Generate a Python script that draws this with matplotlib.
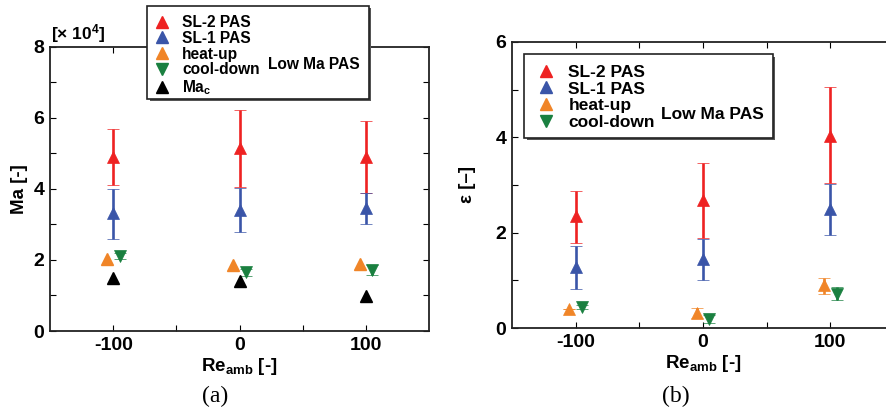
import matplotlib
matplotlib.use("Agg")
import matplotlib.pyplot as plt
from matplotlib.lines import Line2D
from matplotlib.patches import Rectangle
import numpy as np

plt.rcParams['font.family'] = ['Liberation Sans', 'DejaVu Sans']
plt.rcParams['font.weight'] = 'bold'
plt.rcParams['axes.unicode_minus'] = False
plt.rcParams['mathtext.fontset'] = 'custom'
plt.rcParams['mathtext.rm'] = 'Liberation Sans:bold'
plt.rcParams['mathtext.bf'] = 'Liberation Sans:bold'
plt.rcParams['mathtext.it'] = 'Liberation Sans:bold'

re_amb = np.array([-100, 0, 100])

# (a) Ma [x 1e4]
ma_sl2 = [4.9, 5.15, 4.9]
ma_sl2_lo = [4.1, 4.05, 3.88]
ma_sl2_hi = [5.7, 6.22, 5.9]
ma_sl1 = [3.32, 3.4, 3.46]
ma_sl1_lo = [2.6, 2.8, 3.0]
ma_sl1_hi = [4.0, 4.02, 3.9]
ma_heat = [2.03, 1.86, 1.88]
ma_cool = [2.12, 1.67, 1.72]
ma_cool_lo = [2.02, 1.55, 1.57]
ma_cool_hi = [2.2, 1.76, 1.85]
ma_crit = [1.49, 1.41, 0.99]

# (b) epsilon
ep_sl2 = [2.35, 2.68, 4.03]
ep_sl2_lo = [1.78, 1.89, 3.04]
ep_sl2_hi = [2.87, 3.46, 5.05]
ep_sl1 = [1.28, 1.45, 2.5]
ep_sl1_lo = [0.82, 1.0, 1.95]
ep_sl1_hi = [1.72, 1.87, 3.02]
ep_heat = [0.4, 0.31, 0.9]
ep_heat_lo = [0.4, 0.22, 0.72]
ep_heat_hi = [0.4, 0.42, 1.05]
ep_cool = [0.44, 0.2, 0.71]
ep_cool_lo = [0.4, 0.1, 0.59]
ep_cool_hi = [0.48, 0.28, 0.86]

c_red = '#ee2222'
c_blue = '#3a55a8'
c_orange = '#f08528'
c_green = '#1a8040'

fig = plt.figure(figsize=(8.87, 4.19), dpi=100)
ax1 = fig.add_axes([0.0564, 0.21, 0.4273, 0.678])
ax2 = fig.add_axes([0.577, 0.217, 0.431, 0.683])


def err(y, lo, hi):
    y = np.array(y)
    return [y - np.array(lo), np.array(hi) - y]


def eb(ax, x, y, lo, hi, color, marker):
    ax.errorbar(x, y, yerr=err(y, lo, hi), fmt=marker, color=color, ms=8.5,
                elinewidth=1.9, capsize=4, capthick=1.9, mec=color, mew=0.5)


eb(ax1, re_amb, ma_sl2, ma_sl2_lo, ma_sl2_hi, c_red, '^')
eb(ax1, re_amb, ma_sl1, ma_sl1_lo, ma_sl1_hi, c_blue, '^')
ax1.plot(re_amb - 5, ma_heat, '^', color=c_orange, ms=8.5, ls='none')
eb(ax1, re_amb + 5, ma_cool, ma_cool_lo, ma_cool_hi, c_green, 'v')
ax1.plot(re_amb, ma_crit, '^', color='black', ms=8.5, ls='none')

eb(ax2, re_amb, ep_sl2, ep_sl2_lo, ep_sl2_hi, c_red, '^')
eb(ax2, re_amb, ep_sl1, ep_sl1_lo, ep_sl1_hi, c_blue, '^')
eb(ax2, re_amb - 5, ep_heat, ep_heat_lo, ep_heat_hi, c_orange, '^')
eb(ax2, re_amb + 5, ep_cool, ep_cool_lo, ep_cool_hi, c_green, 'v')

ax1.set_ylim(0, 8)
ax1.set_yticks([0, 2, 4, 6, 8])
ax1.set_yticks([1, 3, 5, 7], minor=True)
ax2.set_ylim(0, 6)
ax2.set_yticks([0, 2, 4, 6])
ax2.set_yticks([1, 3, 5], minor=True)

for ax in (ax1, ax2):
    ax.set_xlim(-150, 150)
    ax.set_xticks([-100, 0, 100])
    ax.set_xticks([-50, 50], minor=True)
    ax.tick_params(which='both', direction='in', top=True, right=True,
                   length=4, width=0.8, labelsize=14, pad=4)
    for s in ax.spines.values():
        s.set_linewidth(1.3)
        s.set_color('#222222')
    ax.set_xlabel(r'Re$_{\mathbf{amb}}$ [-]', fontsize=13.5, fontweight='bold', labelpad=2)

ax1.set_ylabel('Ma [-]', fontsize=13.5, fontweight='bold', labelpad=4)
ax2.set_ylabel('ε [–]', fontsize=13.5, fontweight='bold', labelpad=14)

fig.text(0.057, 0.92, '[× 10$^{4}$]', fontsize=12.5, fontweight='bold', va='center')

# legend boxes with shadow
def legend_box(x0, y0, w, h, text, tx, ty, fs):
    sh = Rectangle((x0 + 0.003, y0 - 0.006), w, h, transform=fig.transFigure,
                   facecolor='#555555', edgecolor='none', zorder=9)
    box = Rectangle((x0, y0), w, h, transform=fig.transFigure,
                    facecolor='white', edgecolor='#222222', lw=1.2, zorder=10)
    fig.patches.extend([sh, box])
    fig.text(tx, ty, text, fontsize=fs, fontweight='bold', va='center', zorder=12)


legend_box(0.1657, 0.764, 0.250, 0.222, 'Low Ma PAS', 0.302, 0.845, 11.2)
legend_box(0.591, 0.671, 0.280, 0.200, 'Low Ma PAS', 0.745, 0.726, 12.5)

h1 = [Line2D([], [], marker='^', color=c_red, ls='none', ms=8),
      Line2D([], [], marker='^', color=c_blue, ls='none', ms=8),
      Line2D([], [], marker='^', color=c_orange, ls='none', ms=8),
      Line2D([], [], marker='v', color=c_green, ls='none', ms=8),
      Line2D([], [], marker='^', color='black', ls='none', ms=8)]
l1 = ['SL-2 PAS', 'SL-1 PAS', 'heat-up', 'cool-down', r'Ma$_{\mathbf{c}}$']
leg1 = fig.legend(h1, l1, loc='upper left', bbox_to_anchor=(0.160, 0.99),
                  frameon=False, fontsize=11.2, labelspacing=0.05,
                  handletextpad=0.7, handlelength=1.2, borderpad=0.2)
leg1.set_zorder(13)

leg2 = fig.legend(h1[:4], l1[:4], loc='upper left', bbox_to_anchor=(0.590, 0.875),
                  frameon=False, fontsize=12.5, labelspacing=0.1,
                  handletextpad=0.7, handlelength=1.2, borderpad=0.2)
leg2.set_zorder(13)

fig.text(0.243, 0.055, '(a)', fontsize=17, family='Liberation Serif',
         fontweight='normal', ha='center', va='center')
fig.text(0.762, 0.055, '(b)', fontsize=17, family='Liberation Serif',
         fontweight='normal', ha='center', va='center')

fig.savefig('out.png', dpi=100)
